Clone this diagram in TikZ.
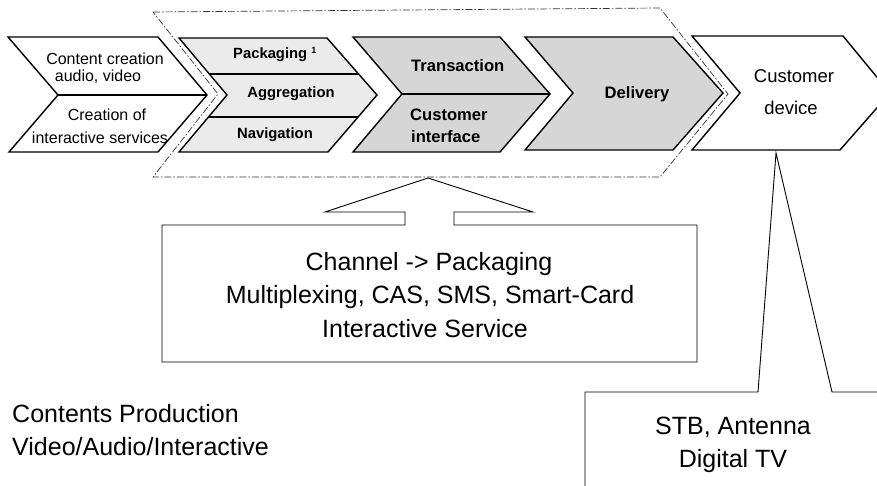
\documentclass[tikz,border=0pt]{standalone}
\usepackage{fontspec}
\setmainfont{Liberation Sans}
\begin{document}
\begin{tikzpicture}[x=1pt,y=-1pt,
  chev/.style={draw=black,line width=1.4pt,line join=miter},
  shadelight/.style={fill=black!8},
  shadedark/.style={fill=black!16},
  callout/.style={draw=black,line width=0.9pt,fill=white},
  dashline/.style={draw=black!80,line width=0.7pt,dash pattern=on 7pt off 2pt on 1.5pt off 2pt},
  divider/.style={draw=black,line width=1.1pt},
  tA/.style={font=\fontsize{16}{19}\selectfont,inner sep=0pt,anchor=base},
  tB/.style={font=\fontsize{14.8}{17}\bfseries\selectfont,inner sep=0pt,anchor=base},
  tC/.style={font=\fontsize{16.6}{19}\bfseries\selectfont,inner sep=0pt,anchor=base},
  tD/.style={font=\fontsize{18.5}{21}\selectfont,inner sep=0pt,anchor=base},
  tE/.style={font=\fontsize{25}{28}\selectfont,inner sep=0pt,anchor=base}
]
\useasboundingbox (0,0) rectangle (877,486);
\clip (0,0) rectangle (877,486);
\fill[white] (0,0) rectangle (877,486);

% dashed outline around the channel stages
\draw[dashline] (153,12) -- (660,8) -- (728,94) -- (660,177) -- (153,177) -- (218,94) -- cycle;

% chevron 1
\draw[chev,fill=white] (8,37) -- (158,37) -- (207,95) -- (158,152) -- (9,152) -- (58,95) -- cycle;
\draw[divider] (58,95) -- (207,95);
% chevron 2
\draw[chev,shadelight] (179,38) -- (327,38) -- (377,95) -- (328,152) -- (179,152) -- (227,95) -- cycle;
\draw[divider] (209,74) -- (359,74);
\draw[divider] (209,117) -- (358,117);
% chevron 3
\draw[chev,shadedark] (353,37) -- (500,37) -- (550,94) -- (500,152) -- (353,152) -- (402,94) -- cycle;
\draw[divider] (402,94) -- (550,94);
% chevron 4
\draw[chev,shadedark] (525,37) -- (673,37) -- (723,93) -- (673,150) -- (525,150) -- (573,93) -- cycle;
% chevron 5
\draw[chev,fill=white] (692,36) -- (843,36) -- (890,93) -- (840,150) -- (692,150) -- (740,93) -- cycle;

% callout box with up arrow
\draw[callout] (162,225) -- (405,225) -- (405,212) -- (325,212) -- (428,178) -- (533,212)
  -- (454,212) -- (454,225) -- (697,225) -- (697,362) -- (162,362) -- cycle;

% callout from customer device
\draw[callout] (585,500) -- (585,392) -- (758,392) -- (776,153) -- (832,392) -- (890,392) -- (890,500) -- cycle;

% texts chevron 1
\node[tA] (c1a) at (105,65) {Content creation};
\node[tA] (c1b) at (98,82) {audio, video};
\node[tA] (c1c) at (107,121) {Creation of};
\node[tA] (c1d) at (100,144) {interactive services};
% chevron 2
\node[tB,anchor=base west] (c2a) at (233,59) {Packaging \textsuperscript{\fontsize{9}{9}\selectfont 1}};
\node[tB] (c2b) at (291,98) {Aggregation};
\node[tB] (c2c) at (275,139) {Navigation};
% chevron 3
\node[tC,anchor=base west] (c3a) at (411,72) {Transaction};
\node[tC,anchor=base west] (c3b) at (410,121) {Customer};
\node[tC,anchor=base west] (c3c) at (411,143) {interface};
% chevron 4
\node[tC] (c4) at (637,99) {Delivery};
% chevron 5
\node[tD] (c5a) at (794,83) {Customer};
\node[tD] (c5b) at (791,115) {device};

% channel box
\node[tE] (ch1) at (429,270) {Channel -> Packaging};
\node[tE] (ch2) at (430,303) {Multiplexing, CAS, SMS, Smart-Card};
\node[tE] (ch3) at (425,337) {Interactive Service};

% device box
\node[tE] (dv1) at (733,434) {STB, Antenna};
\node[tE] (dv2) at (733,467) {Digital TV};

% production
\node[tE,anchor=base west] (pr1) at (12,422) {Contents Production};
\node[tE,anchor=base west] (pr2) at (12,455) {Video/Audio/Interactive};
\end{tikzpicture}
\end{document}
